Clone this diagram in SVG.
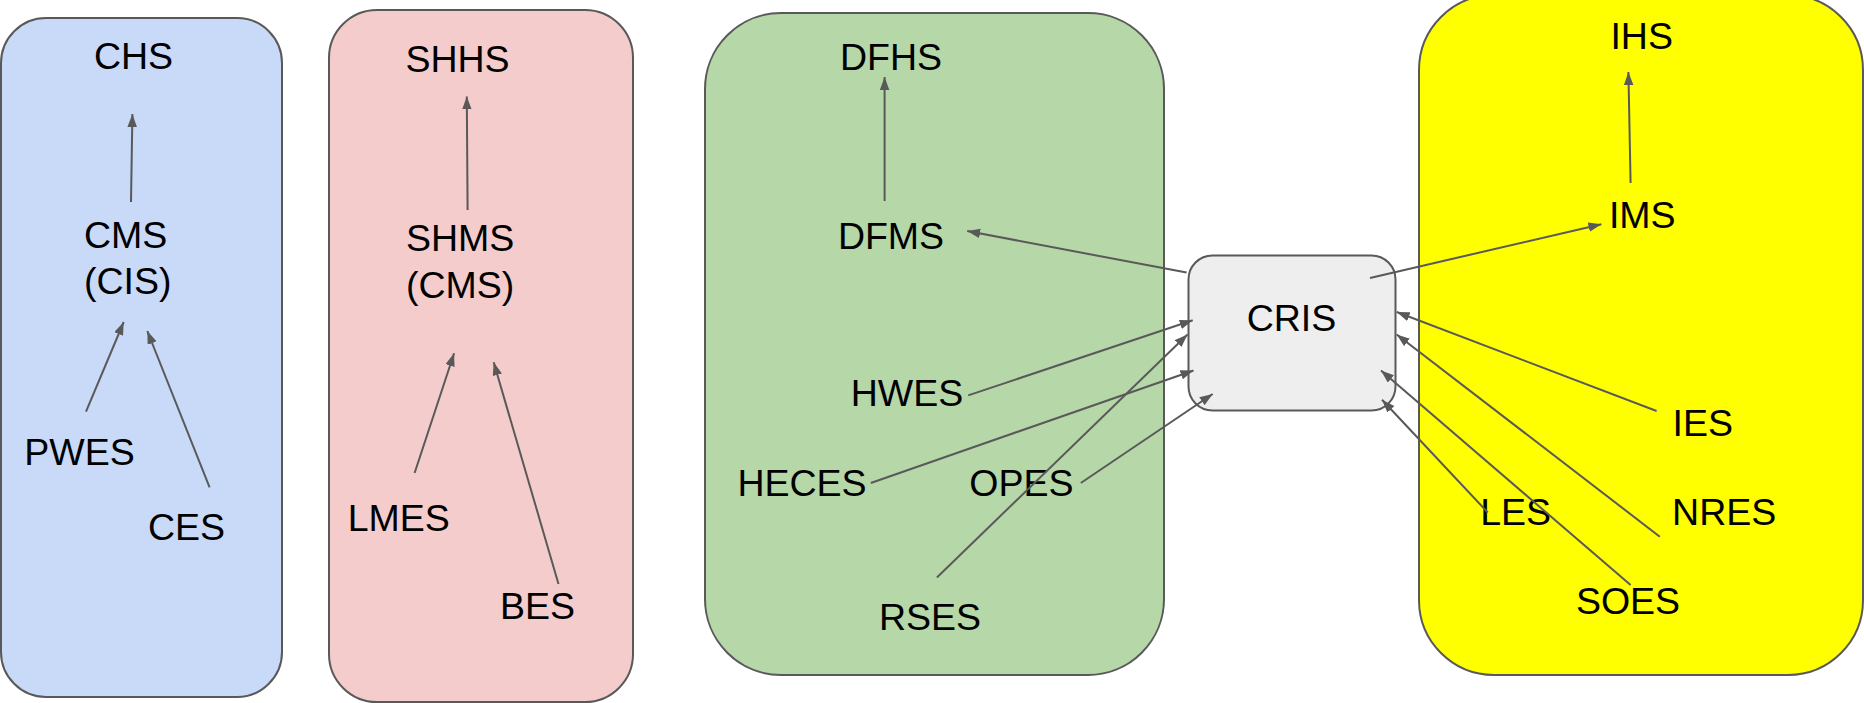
<svg xmlns="http://www.w3.org/2000/svg" width="1864" height="703" viewBox="0 0 1864 703">
<style>
.box{stroke:#595959;stroke-width:2}
.t{font-family:"Liberation Sans",Arial,sans-serif;font-size:37.5px;fill:#000;text-anchor:middle}
.ts{text-anchor:start}
.c line{stroke:#595959;stroke-width:2;marker-end:url(#ah)}
</style>
<defs>
<marker id="ah" markerUnits="userSpaceOnUse" markerWidth="14" markerHeight="10" refX="13" refY="4.75" orient="auto">
<path d="M0,0 L13,4.75 L0,9.5 z" fill="#595959"/>
</marker>
</defs>
<rect width="1864" height="703" fill="#fff"/>
<g id="group-blue"><rect class="box" x="1" y="18" width="281" height="679" rx="45" fill="#c9daf8"/></g>
<g id="group-pink"><rect class="box" x="329" y="10" width="304" height="692" rx="48" fill="#f4cccc"/></g>
<g id="group-green"><rect class="box" x="705" y="13" width="459" height="662" rx="76" fill="#b6d7a8"/></g>
<g id="group-yellow"><rect class="box" x="1419" y="-5" width="444" height="680" rx="75" fill="#ffff00"/></g>
<g id="CRIS"><rect class="box" x="1188.5" y="255.5" width="207" height="155" rx="24" fill="#eeeeee"/><text class="t" x="1291.5" y="331">CRIS</text></g>
<g id="CHS"><text class="t" x="133.5" y="69">CHS</text></g>
<g id="CMS"><text class="t ts" x="84" y="248">CMS</text><text class="t ts" x="84" y="294">(CIS)</text></g>
<g id="PWES"><text class="t" x="79.5" y="465">PWES</text></g>
<g id="CES"><text class="t" x="186.6" y="540">CES</text></g>
<g id="SHHS"><text class="t" x="457.5" y="72">SHHS</text></g>
<g id="SHMS"><text class="t ts" x="406" y="251">SHMS</text><text class="t ts" x="406" y="298">(CMS)</text></g>
<g id="LMES"><text class="t" x="398.8" y="531">LMES</text></g>
<g id="BES"><text class="t" x="537.5" y="618.5">BES</text></g>
<g id="DFHS"><text class="t" x="891" y="69.5">DFHS</text></g>
<g id="DFMS"><text class="t" x="891" y="249">DFMS</text></g>
<g id="HWES"><text class="t" x="907" y="406">HWES</text></g>
<g id="HECES"><text class="t" x="802" y="496">HECES</text></g>
<g id="OPES"><text class="t" x="1021.4" y="496">OPES</text></g>
<g id="RSES"><text class="t" x="930" y="630">RSES</text></g>
<g id="IHS"><text class="t" x="1641.7" y="49">IHS</text></g>
<g id="IMS"><text class="t" x="1642.3" y="228">IMS</text></g>
<g id="IES"><text class="t" x="1702.7" y="436">IES</text></g>
<g id="NRES"><text class="t" x="1724.2" y="524.6">NRES</text></g>
<g id="LES"><text class="t" x="1515.6" y="524.6">LES</text></g>
<g id="SOES"><text class="t" x="1628" y="614">SOES</text></g>
<g id="connectors" class="c">
<line x1="131" y1="202" x2="132.4" y2="114"/>
<line x1="86" y1="411.6" x2="123.7" y2="322"/>
<line x1="209.6" y1="487.4" x2="147.3" y2="331"/>
<line x1="467.6" y1="210" x2="466.8" y2="96.4"/>
<line x1="414.6" y1="473" x2="454.1" y2="353.3"/>
<line x1="558.5" y1="584" x2="493.7" y2="362.3"/>
<line x1="884.6" y1="201" x2="884.6" y2="77"/>
<line x1="1186.6" y1="272.6" x2="967.2" y2="231"/>
<line x1="968.2" y1="395.4" x2="1192.7" y2="320.3"/>
<line x1="936.9" y1="577.5" x2="1187.5" y2="334.5"/>
<line x1="870.8" y1="483" x2="1193.5" y2="370.5"/>
<line x1="1080.8" y1="483" x2="1212.7" y2="394"/>
<line x1="1630.6" y1="183" x2="1628.4" y2="72"/>
<line x1="1370" y1="278" x2="1601.4" y2="224.2"/>
<line x1="1656.6" y1="411" x2="1396.7" y2="312"/>
<line x1="1659.8" y1="536.7" x2="1396.7" y2="334.5"/>
<line x1="1630.6" y1="585" x2="1381" y2="370.5"/>
<line x1="1487.8" y1="512.5" x2="1382" y2="399.8"/>
</g>
</svg>
